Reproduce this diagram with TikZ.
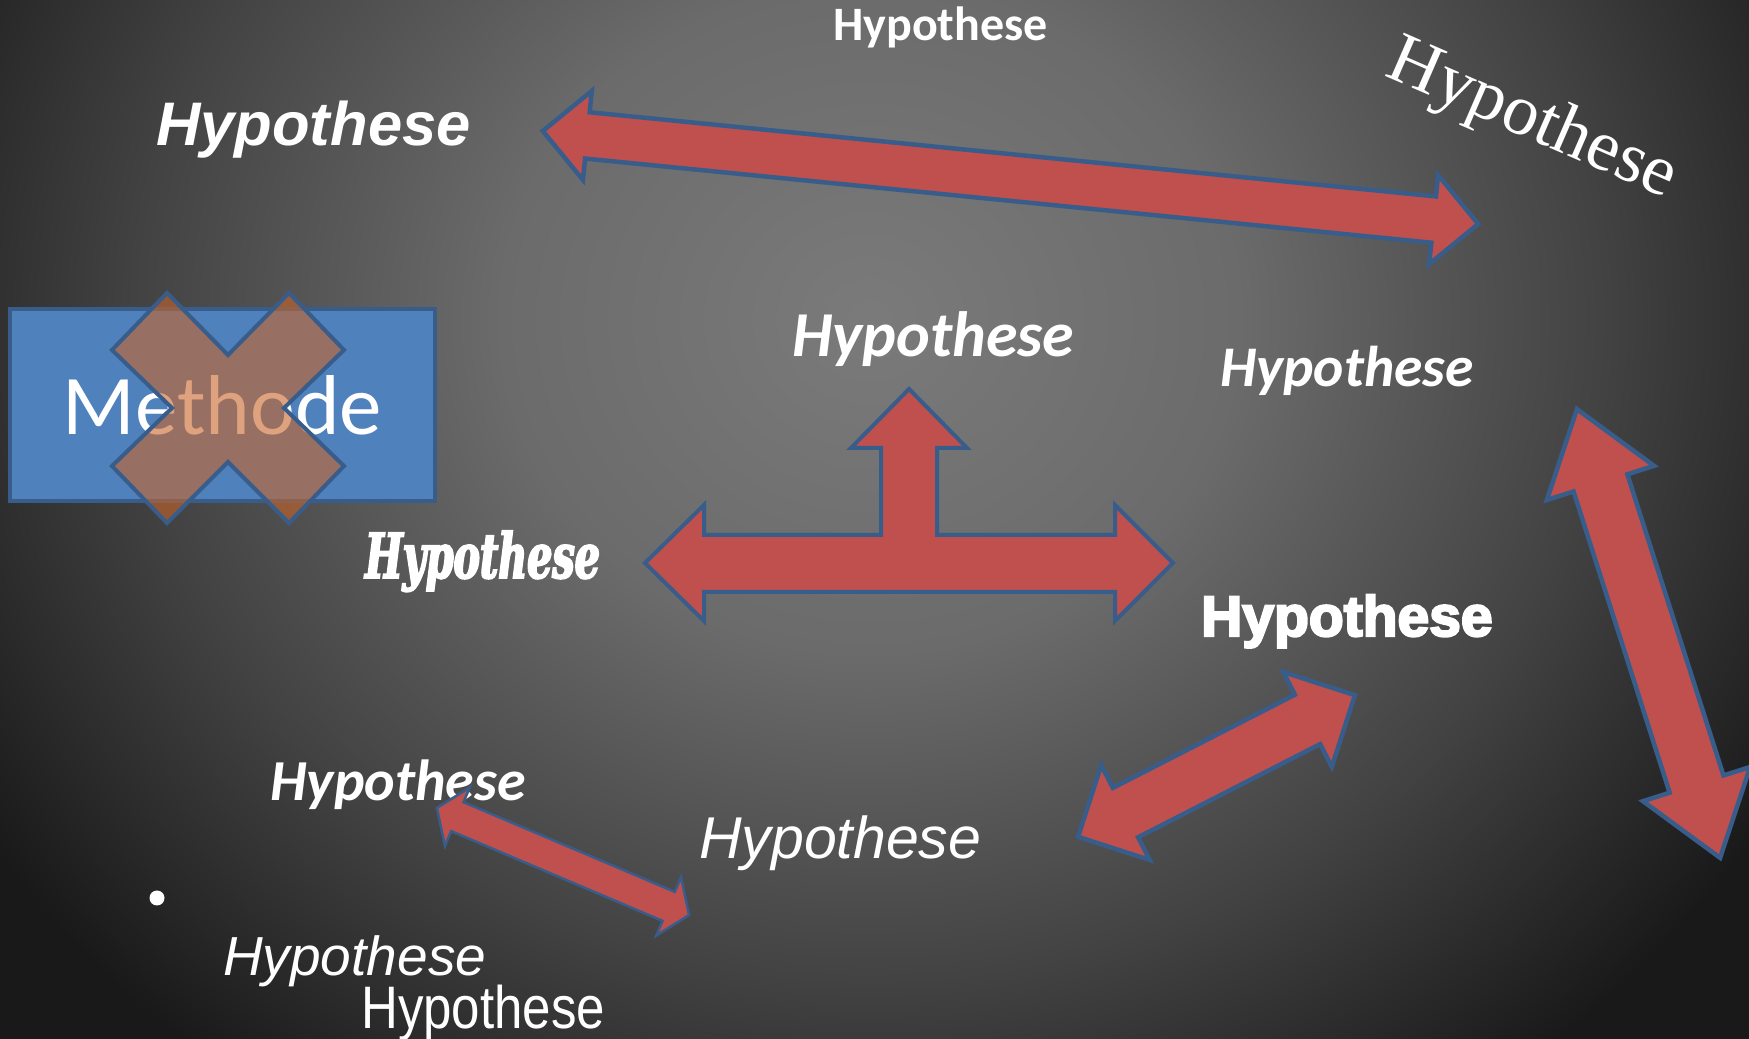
\documentclass[tikz,border=0pt]{standalone}
\usepackage{fontspec}
\setmainfont{Carlito}
\newfontfamily\arialfont{Liberation Sans}
\newfontfamily\serifrot{Liberation Serif}
\newfontfamily\posterfont[FakeStretch=0.64,FakeBold=3]{DejaVu Serif}
\newfontfamily\heavyfont[FakeBold=4]{Liberation Sans}
\newfontfamily\narrowfont[FakeStretch=0.85]{Liberation Sans}
\usetikzlibrary{shapes.arrows}
\definecolor{arrowfill}{HTML}{C0504D}
\definecolor{arrowline}{HTML}{385D8A}
\definecolor{boxfill}{HTML}{4F81BD}
\definecolor{crossfill}{RGB}{200,100,40}
\definecolor{bgedge}{rgb}{0.1,0.1,0.1}
\pgfdeclareradialshading{slidebg}{\pgfpoint{0bp}{0bp}}{rgb(0bp)=(0.48,0.48,0.48); rgb(8.75bp)=(0.42,0.42,0.42); rgb(17.5bp)=(0.26,0.26,0.26); rgb(25bp)=(0.1,0.1,0.1); rgb(50bp)=(0.1,0.1,0.1)}
\tikzset{
  hyptext/.style={text=white, inner sep=0pt, anchor=base west},
  blockarrow/.style={double arrow, draw=arrowline, fill=arrowfill, line width=4.5bp,
    inner xsep=0pt, double arrow head indent=0pt},
}
\begin{document}
\begin{tikzpicture}[line join=miter]
%%
\useasboundingbox (0bp,0bp) rectangle (1749bp,1039bp);
\clip (0bp,0bp) rectangle (1749bp,1039bp);
\fill [bgedge] (0bp,0bp) rectangle (1749bp,1039bp);
\shade [shading=slidebg] (870bp,720bp) ellipse [x radius=1050bp, y radius=950bp];
%
\node (methode_box) at (222.5bp,634bp) [draw=arrowline, fill=boxfill, line width=4bp, minimum width=425bp, minimum height=192bp, text=white, font=\fontsize{85bp}{85bp}\selectfont] {Methode};
  \filldraw [fill=crossfill, fill opacity=0.6, draw=arrowline, line width=4bp] (167bp,746bp) -- (228bp,684bp) -- (289bp,746bp) -- (344bp,689bp) -- (284bp,631bp) -- (344bp,573bp) -- (289bp,516bp) -- (228bp,577bp) -- (167bp,516bp) -- (112bp,573bp) -- (172bp,631bp) -- (112bp,689bp) -- cycle;
%
\node (hyp_top) at (833bp,998bp) [hyptext, font=\bfseries\fontsize{48bp}{48bp}\selectfont] {Hypothese};
  \node (hyp_topleft) at (156bp,893bp) [hyptext, font=\arialfont\bfseries\itshape\fontsize{61.5bp}{61.5bp}\selectfont] {Hypothese};
  \node (hyp_turned) at (1525bp,902bp) [hyptext, anchor=base, rotate=-23.5, font=\serifrot\fontsize{72bp}{72bp}\selectfont] {Hypothese};
  \node (hyp_center) at (792bp,682bp) [hyptext, font=\bfseries\itshape\fontsize{64bp}{64bp}\selectfont] {Hypothese};
  \node (hyp_right) at (1220bp,652bp) [hyptext, font=\bfseries\itshape\fontsize{57.5bp}{57.5bp}\selectfont] {Hypothese};
  \node (hyp_poster) at (365bp,461bp) [hyptext, font=\posterfont\bfseries\itshape\fontsize{62bp}{62bp}\selectfont] {Hypothese};
  \node (hyp_heavy) at (1201bp,403bp) [hyptext, font=\heavyfont\bfseries\fontsize{57bp}{57bp}\selectfont] {Hypothese};
  \node (hyp_lowleft) at (270bp,238bp) [hyptext, font=\bfseries\itshape\fontsize{58bp}{58bp}\selectfont] {Hypothese};
  \node (hyp_lowmid) at (699bp,180bp) [hyptext, font=\arialfont\itshape\fontsize{59bp}{59bp}\selectfont] {Hypothese};
  \node (bullet) at (157bp,141bp) [circle, fill=white, inner sep=0pt, minimum size=15bp] {};
  \node (hyp_bottom_a) at (223bp,63bp) [hyptext, font=\arialfont\itshape\fontsize{55bp}{55bp}\selectfont] {Hypothese};
  \node (hyp_bottom_b) at (361bp,11bp) [hyptext, font=\narrowfont\fontsize{60bp}{60bp}\selectfont] {Hypothese};
%
\node (arrow_top) at (1010.5bp,861.5bp) [blockarrow, rotate=-5.68, minimum height=940bp, inner ysep=21bp, double arrow head extend=21.5bp, double arrow tip angle=90] {};
  \node (arrow_right) at (1648.5bp,405.5bp) [blockarrow, rotate=-72.3, minimum height=471bp, inner ysep=26bp, double arrow head extend=28bp, double arrow tip angle=72] {};
  \node (arrow_mid) at (1216.5bp,273bp) [blockarrow, rotate=27.1, minimum height=311bp, inner ysep=25.5bp, double arrow head extend=25.5bp, double arrow tip angle=90] {};
  \node (arrow_low) at (563bp,177.5bp) [blockarrow, rotate=-23, line width=2.5bp, minimum height=274bp, inner ysep=14.5bp, double arrow head extend=16bp, double arrow tip angle=110] {};
  \filldraw [fill=arrowfill, draw=arrowline, line width=4bp] (645bp,476bp) -- (704bp,534bp) -- (704bp,504bp) -- (881bp,504bp) -- (881bp,591bp) -- (851bp,591bp) -- (909bp,650bp) -- (967bp,591bp) -- (937bp,591bp) -- (937bp,504bp) -- (1115bp,504bp) -- (1115bp,534bp) -- (1173bp,476bp) -- (1115bp,418bp) -- (1115bp,447bp) -- (704bp,447bp) -- (704bp,418bp) -- cycle;
%
\end{tikzpicture}
\end{document}
